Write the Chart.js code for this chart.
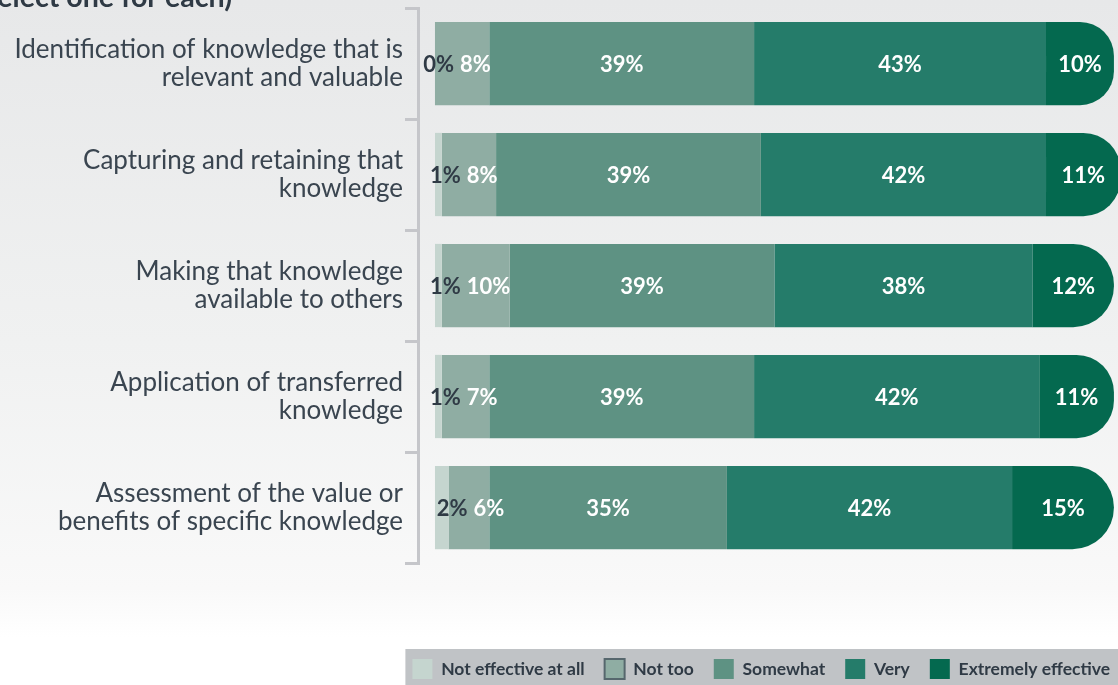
<!DOCTYPE html>
<html><head><meta charset="utf-8">
<script src="https://cdn.jsdelivr.net/npm/chart.js@4.4.1/dist/chart.umd.min.js"></script>
<style>html,body{margin:0;padding:0;background:#fff;overflow:hidden}</style>
</head><body>
<canvas id="c" width="1118" height="685"></canvas>
<script>
const categories = [
  ["Identification of knowledge that is", "relevant and valuable"],
  ["Capturing and retaining that", "knowledge"],
  ["Making that knowledge", "available to others"],
  ["Application of transferred", "knowledge"],
  ["Assessment of the value or", "benefits of specific knowledge"]
];
const seriesNames = ["Not effective at all", "Not too", "Somewhat", "Very", "Extremely effective"];
const notEffective = [0, 1, 1, 1, 2];
const notToo = [8, 8, 10, 7, 6];
const somewhat = [39, 39, 39, 39, 35];
const very = [43, 42, 38, 42, 42];
const extremely = [10, 11, 12, 11, 15];
const titleText = "(select one for each)";

const colors = ['#c5d5cf', '#8fada3', '#5e9283', '#257c6a', '#04694f'];
const seriesValues = [notEffective, notToo, somewhat, very, extremely];
const textDark = '#2f3a45';

const datasets = seriesNames.map((name, i) => ({
  label: name,
  data: seriesValues[i],
  backgroundColor: colors[i],
  borderWidth: 0,
  borderSkipped: false,
  borderRadius: i === 4 ? {topLeft: 0, bottomLeft: 0, topRight: 42, bottomRight: 42} : 0,
  categoryPercentage: 1,
  barPercentage: 0.75,
  clip: false
}));

const LEGEND_SHIFT_X = 12;
const LEGEND_SHIFT_Y = 4;

const bgPlugin = {
  id: 'bg',
  beforeDraw(chart) {
    const ctx = chart.ctx, w = chart.width, h = chart.height;
    ctx.save();
    const g = ctx.createLinearGradient(0, 0, 0, h);
    g.addColorStop(0, '#e7e8e9');
    g.addColorStop(0.5, '#f0f1f1');
    g.addColorStop(0.86, '#f9f9f9');
    g.addColorStop(0.93, '#ffffff');
    g.addColorStop(1, '#ffffff');
    ctx.fillStyle = g;
    ctx.fillRect(0, 0, w, h);
    const lg = chart.legend;
    if (lg && lg.legendHitBoxes && lg.legendHitBoxes.length) {
      lg.right = w + LEGEND_SHIFT_X;
      lg.top = h - lg.height + LEGEND_SHIFT_Y;
      const pad = lg.options.labels.padding;
      const left = lg.right - lg.lineWidths[0];
      const top = lg.top + pad - 10;
      ctx.fillStyle = '#c0c3c6';
      ctx.fillRect(left - 7, top, w - (left - 7), h - top);
    }
    // partially visible heading at the top
    ctx.font = 'bold 28.6px Lato';
    ctx.fillStyle = textDark;
    ctx.textAlign = 'right';
    ctx.textBaseline = 'alphabetic';
    ctx.fillText(titleText, 232, 7);
    ctx.restore();
  }
};

const labelPlugin = {
  id: 'segLabels',
  afterDatasetsDraw(chart) {
    const ctx = chart.ctx;
    ctx.save();
    ctx.font = 'bold 22px Lato';
    ctx.textBaseline = 'middle';
    const n = chart.data.labels.length;
    for (let j = 0; j < n; j++) {
      const e0 = chart.getDatasetMeta(0).data[j];
      const y = e0.y + 1;
      const r0 = Math.max(e0.x, e0.base) + 19;
      ctx.fillStyle = textDark;
      ctx.textAlign = 'right';
      ctx.fillText(chart.data.datasets[0].data[j] + '%', r0, y);
      ctx.fillStyle = '#ffffff';
      ctx.textAlign = 'left';
      ctx.fillText(chart.data.datasets[1].data[j] + '%', r0 + 6, y);
      ctx.textAlign = 'center';
      for (let d = 2; d < chart.data.datasets.length; d++) {
        const el = chart.getDatasetMeta(d).data[j];
        ctx.fillText(chart.data.datasets[d].data[j] + '%', (el.x + el.base) / 2, y);
      }
    }
    ctx.restore();
  }
};

new Chart(document.getElementById('c'), {
  type: 'bar',
  data: { labels: categories, datasets },
  options: {
    indexAxis: 'y',
    responsive: false,
    animation: false,
    devicePixelRatio: 1,
    layout: { padding: { top: 8, left: 0, right: 0, bottom: 0 } },
    scales: {
      x: {
        stacked: true, min: -2.5, max: 100.6,
        grid: { display: false }, border: { display: false },
        ticks: { display: false },
        afterFit(s) { s.height = 72; }
      },
      y: {
        stacked: true,
        grid: { offset: true, drawOnChartArea: false, drawTicks: true, tickLength: 13, color: '#c5c6ca', lineWidth: 3 },
        border: { display: true, color: '#c5c6ca', width: 3 },
        ticks: { padding: 2, color: '#3a4550', font: { family: 'Lato', size: 26, lineHeight: 1.08 } },
        afterFit(s) { s.width = 418; s.paddingTop = 0; s.paddingBottom = 0; }
      }
    },
    plugins: {
      tooltip: { enabled: false },
      legend: {
        position: 'bottom', align: 'end',
        labels: {
          boxWidth: 20, boxHeight: 20, padding: 20, color: textDark,
          font: { family: 'Lato', size: 17.5, weight: 'bold' },
          generateLabels(chart) {
            const items = Chart.defaults.plugins.legend.labels.generateLabels(chart);
            items.forEach((it, i) => { it.lineWidth = i === 1 ? 2 : 0; it.strokeStyle = '#56676d'; });
            return items;
          }
        }
      }
    }
  },
  plugins: [bgPlugin, labelPlugin]
});
</script>
</body></html>
